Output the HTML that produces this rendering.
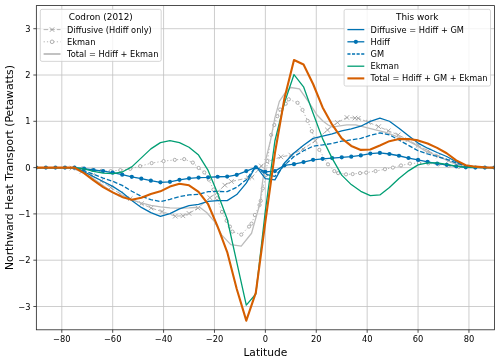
<!DOCTYPE html><html><head><meta charset="utf-8"><title>Northward Heat Transport</title><style>html,body{margin:0;padding:0;background:#fff}svg{display:block}</style></head><body><svg width="500" height="361" viewBox="0 0 500 361" font-family="DejaVu Sans, Liberation Sans, sans-serif">
<rect width="500" height="361" fill="#fff"/>
<path d="M61.80 5.6V329.8M112.69 5.6V329.8M163.59 5.6V329.8M214.48 5.6V329.8M265.37 5.6V329.8M316.27 5.6V329.8M367.16 5.6V329.8M418.06 5.6V329.8M468.95 5.6V329.8M36.35 306.50H494.4M36.35 260.20H494.4M36.35 213.90H494.4M36.35 167.60H494.4M36.35 121.30H494.4M36.35 75.00H494.4M36.35 28.70H494.4" stroke="#c2c2c2" stroke-width="0.8" fill="none"/>
<clipPath id="c"><rect x="36.35" y="5.6" width="458.04999999999995" height="324.2"/></clipPath>
<g clip-path="url(#c)" fill="none" stroke-linejoin="round">
<polyline points="36.35,167.60 61.80,167.60 71.98,168.06 82.16,171.30 92.33,175.47 101.24,181.03 110.66,187.51 120.33,193.99 130.25,198.62 141.45,203.71 151.12,208.02 162.06,211.58 175.29,216.17 182.93,215.80 189.03,213.44 197.94,208.02 209.90,197.69 217.28,192.37 224.79,185.19 231.40,181.49 248.33,177.79 251.89,177.32 261.30,165.98 266.90,161.81 280.90,156.86 290.82,155.10 303.04,149.08 315.25,140.79 327.47,129.96 337.39,122.50 346.93,117.50 354.95,118.06 358.26,118.29 368.44,122.23 378.62,126.62 388.29,130.79 398.21,134.87 407.88,139.82 418.06,145.38 428.24,150.93 438.42,156.03 448.59,160.66 458.77,164.82 468.95,167.60 494.40,167.60" stroke="#b4b4b4" stroke-width="1" stroke-dasharray="4.6 2"/>
<path d="M69.68 165.76L74.28 170.36M69.68 170.36L74.28 165.76M79.86 169.00L84.45 173.60M79.86 173.60L84.45 169.00M90.03 173.17L94.63 177.77M90.03 177.77L94.63 173.17M98.94 178.73L103.54 183.33M98.94 183.33L103.54 178.73M108.36 185.21L112.96 189.81M108.36 189.81L112.96 185.21M118.03 191.69L122.63 196.29M118.03 196.29L122.63 191.69M127.95 196.32L132.55 200.92M127.95 200.92L132.55 196.32M139.15 201.41L143.75 206.01M139.15 206.01L143.75 201.41M148.82 205.72L153.42 210.32M148.82 210.32L153.42 205.72M159.76 209.28L164.36 213.88M159.76 213.88L164.36 209.28M172.99 213.87L177.59 218.47M172.99 218.47L177.59 213.87M180.63 213.50L185.23 218.10M180.63 218.10L185.23 213.50M186.73 211.14L191.33 215.74M186.73 215.74L191.33 211.14M195.64 205.72L200.24 210.32M195.64 210.32L200.24 205.72M207.60 195.39L212.20 200.00M207.60 200.00L212.20 195.39M214.98 190.07L219.58 194.67M214.98 194.67L219.58 190.07M222.49 182.89L227.09 187.49M222.49 187.49L227.09 182.89M229.10 179.19L233.70 183.79M229.10 183.79L233.70 179.19M246.03 175.49L250.63 180.09M246.03 180.09L250.63 175.49M249.59 175.02L254.19 179.62M249.59 179.62L254.19 175.02M259.00 163.68L263.60 168.28M259.00 168.28L263.60 163.68M264.60 159.51L269.20 164.11M264.60 164.11L269.20 159.51M278.60 154.56L283.20 159.16M278.60 159.16L283.20 154.56M288.52 152.80L293.12 157.40M288.52 157.40L293.12 152.80M300.74 146.78L305.34 151.38M300.74 151.38L305.34 146.78M312.95 138.49L317.55 143.09M312.95 143.09L317.55 138.49M325.17 127.66L329.77 132.26M325.17 132.26L329.77 127.66M335.09 120.20L339.69 124.80M335.09 124.80L339.69 120.20M344.63 115.20L349.23 119.80M344.63 119.80L349.23 115.20M352.65 115.76L357.25 120.36M352.65 120.36L357.25 115.76M355.96 115.99L360.56 120.59M355.96 120.59L360.56 115.99M366.14 119.93L370.74 124.53M366.14 124.53L370.74 119.93M376.32 124.32L380.92 128.92M376.32 128.92L380.92 124.32M385.99 128.49L390.59 133.09M385.99 133.09L390.59 128.49M395.91 132.57L400.51 137.17M395.91 137.17L400.51 132.57M405.58 137.52L410.18 142.12M405.58 142.12L410.18 137.52M415.76 143.08L420.36 147.68M415.76 147.68L420.36 143.08M425.94 148.63L430.54 153.23M425.94 153.23L430.54 148.63M436.12 153.72L440.72 158.33M436.12 158.33L440.72 153.72M446.29 158.35L450.89 162.96M446.29 162.96L450.89 158.35M456.47 162.52L461.07 167.12M456.47 167.12L461.07 162.52" stroke="#9c9c9c" stroke-width="0.85"/>
<polyline points="36.35,167.60 61.80,167.60 82.16,168.53 92.33,169.91 101.24,170.84 110.66,171.12 120.33,170.10 130.25,168.85 140.17,166.12 151.63,163.11 163.59,161.12 174.78,159.87 184.20,159.13 192.85,162.60 198.70,167.97 204.30,172.42 208.88,179.64 213.46,189.59 217.03,198.16 221.96,211.96 226.62,220.80 229.93,226.59 232.42,231.59 241.25,234.60 249.06,226.59 251.56,223.62 254.89,214.96 259.55,205.01 260.72,200.84 262.83,188.44 266.14,174.87 267.41,161.12 271.15,134.96 274.28,125.00 277.34,116.21 280.13,109.49 285.73,103.71 288.79,99.31 297.57,102.78 302.53,109.91 307.62,120.84 311.82,131.16 319.32,149.87 327.98,164.36 334.34,171.12 338.15,173.11 346.04,174.36 352.66,174.08 360.04,173.11 366.15,172.60 375.56,171.12 384.98,169.22 392.87,167.60 401.01,165.47 409.92,163.62 419.08,162.97 428.24,163.43 438.42,164.36 448.59,165.75 458.77,166.91 468.95,167.60 494.40,167.60" stroke="#b4b4b4" stroke-width="1" stroke-dasharray="1.25 2.05"/>
<circle cx="82.16" cy="168.53" r="1.6" stroke="#9c9c9c" stroke-width="0.8" fill="#fff"/>
<circle cx="92.33" cy="169.91" r="1.6" stroke="#9c9c9c" stroke-width="0.8" fill="#fff"/>
<circle cx="101.24" cy="170.84" r="1.6" stroke="#9c9c9c" stroke-width="0.8" fill="#fff"/>
<circle cx="110.66" cy="171.12" r="1.6" stroke="#9c9c9c" stroke-width="0.8" fill="#fff"/>
<circle cx="120.33" cy="170.10" r="1.6" stroke="#9c9c9c" stroke-width="0.8" fill="#fff"/>
<circle cx="130.25" cy="168.85" r="1.6" stroke="#9c9c9c" stroke-width="0.8" fill="#fff"/>
<circle cx="140.17" cy="166.12" r="1.6" stroke="#9c9c9c" stroke-width="0.8" fill="#fff"/>
<circle cx="151.63" cy="163.11" r="1.6" stroke="#9c9c9c" stroke-width="0.8" fill="#fff"/>
<circle cx="163.59" cy="161.12" r="1.6" stroke="#9c9c9c" stroke-width="0.8" fill="#fff"/>
<circle cx="174.78" cy="159.87" r="1.6" stroke="#9c9c9c" stroke-width="0.8" fill="#fff"/>
<circle cx="184.20" cy="159.13" r="1.6" stroke="#9c9c9c" stroke-width="0.8" fill="#fff"/>
<circle cx="192.85" cy="162.60" r="1.6" stroke="#9c9c9c" stroke-width="0.8" fill="#fff"/>
<circle cx="198.70" cy="167.97" r="1.6" stroke="#9c9c9c" stroke-width="0.8" fill="#fff"/>
<circle cx="204.30" cy="172.42" r="1.6" stroke="#9c9c9c" stroke-width="0.8" fill="#fff"/>
<circle cx="208.88" cy="179.64" r="1.6" stroke="#9c9c9c" stroke-width="0.8" fill="#fff"/>
<circle cx="213.46" cy="189.59" r="1.6" stroke="#9c9c9c" stroke-width="0.8" fill="#fff"/>
<circle cx="217.03" cy="198.16" r="1.6" stroke="#9c9c9c" stroke-width="0.8" fill="#fff"/>
<circle cx="221.96" cy="211.96" r="1.6" stroke="#9c9c9c" stroke-width="0.8" fill="#fff"/>
<circle cx="226.62" cy="220.80" r="1.6" stroke="#9c9c9c" stroke-width="0.8" fill="#fff"/>
<circle cx="229.93" cy="226.59" r="1.6" stroke="#9c9c9c" stroke-width="0.8" fill="#fff"/>
<circle cx="232.42" cy="231.59" r="1.6" stroke="#9c9c9c" stroke-width="0.8" fill="#fff"/>
<circle cx="241.25" cy="234.60" r="1.6" stroke="#9c9c9c" stroke-width="0.8" fill="#fff"/>
<circle cx="249.06" cy="226.59" r="1.6" stroke="#9c9c9c" stroke-width="0.8" fill="#fff"/>
<circle cx="251.56" cy="223.62" r="1.6" stroke="#9c9c9c" stroke-width="0.8" fill="#fff"/>
<circle cx="254.89" cy="214.96" r="1.6" stroke="#9c9c9c" stroke-width="0.8" fill="#fff"/>
<circle cx="259.55" cy="205.01" r="1.6" stroke="#9c9c9c" stroke-width="0.8" fill="#fff"/>
<circle cx="260.72" cy="200.84" r="1.6" stroke="#9c9c9c" stroke-width="0.8" fill="#fff"/>
<circle cx="262.83" cy="188.44" r="1.6" stroke="#9c9c9c" stroke-width="0.8" fill="#fff"/>
<circle cx="266.14" cy="174.87" r="1.6" stroke="#9c9c9c" stroke-width="0.8" fill="#fff"/>
<circle cx="267.41" cy="161.12" r="1.6" stroke="#9c9c9c" stroke-width="0.8" fill="#fff"/>
<circle cx="271.15" cy="134.96" r="1.6" stroke="#9c9c9c" stroke-width="0.8" fill="#fff"/>
<circle cx="274.28" cy="125.00" r="1.6" stroke="#9c9c9c" stroke-width="0.8" fill="#fff"/>
<circle cx="277.34" cy="116.21" r="1.6" stroke="#9c9c9c" stroke-width="0.8" fill="#fff"/>
<circle cx="280.13" cy="109.49" r="1.6" stroke="#9c9c9c" stroke-width="0.8" fill="#fff"/>
<circle cx="285.73" cy="103.71" r="1.6" stroke="#9c9c9c" stroke-width="0.8" fill="#fff"/>
<circle cx="288.79" cy="99.31" r="1.6" stroke="#9c9c9c" stroke-width="0.8" fill="#fff"/>
<circle cx="297.57" cy="102.78" r="1.6" stroke="#9c9c9c" stroke-width="0.8" fill="#fff"/>
<circle cx="302.53" cy="109.91" r="1.6" stroke="#9c9c9c" stroke-width="0.8" fill="#fff"/>
<circle cx="307.62" cy="120.84" r="1.6" stroke="#9c9c9c" stroke-width="0.8" fill="#fff"/>
<circle cx="311.82" cy="131.16" r="1.6" stroke="#9c9c9c" stroke-width="0.8" fill="#fff"/>
<circle cx="319.32" cy="149.87" r="1.6" stroke="#9c9c9c" stroke-width="0.8" fill="#fff"/>
<circle cx="327.98" cy="164.36" r="1.6" stroke="#9c9c9c" stroke-width="0.8" fill="#fff"/>
<circle cx="334.34" cy="171.12" r="1.6" stroke="#9c9c9c" stroke-width="0.8" fill="#fff"/>
<circle cx="338.15" cy="173.11" r="1.6" stroke="#9c9c9c" stroke-width="0.8" fill="#fff"/>
<circle cx="346.04" cy="174.36" r="1.6" stroke="#9c9c9c" stroke-width="0.8" fill="#fff"/>
<circle cx="352.66" cy="174.08" r="1.6" stroke="#9c9c9c" stroke-width="0.8" fill="#fff"/>
<circle cx="360.04" cy="173.11" r="1.6" stroke="#9c9c9c" stroke-width="0.8" fill="#fff"/>
<circle cx="366.15" cy="172.60" r="1.6" stroke="#9c9c9c" stroke-width="0.8" fill="#fff"/>
<circle cx="375.56" cy="171.12" r="1.6" stroke="#9c9c9c" stroke-width="0.8" fill="#fff"/>
<circle cx="384.98" cy="169.22" r="1.6" stroke="#9c9c9c" stroke-width="0.8" fill="#fff"/>
<circle cx="392.87" cy="167.60" r="1.6" stroke="#9c9c9c" stroke-width="0.8" fill="#fff"/>
<circle cx="401.01" cy="165.47" r="1.6" stroke="#9c9c9c" stroke-width="0.8" fill="#fff"/>
<circle cx="409.92" cy="163.62" r="1.6" stroke="#9c9c9c" stroke-width="0.8" fill="#fff"/>
<circle cx="419.08" cy="162.97" r="1.6" stroke="#9c9c9c" stroke-width="0.8" fill="#fff"/>
<circle cx="428.24" cy="163.43" r="1.6" stroke="#9c9c9c" stroke-width="0.8" fill="#fff"/>
<circle cx="438.42" cy="164.36" r="1.6" stroke="#9c9c9c" stroke-width="0.8" fill="#fff"/>
<circle cx="448.59" cy="165.75" r="1.6" stroke="#9c9c9c" stroke-width="0.8" fill="#fff"/>
<circle cx="458.77" cy="166.91" r="1.6" stroke="#9c9c9c" stroke-width="0.8" fill="#fff"/>
<polyline points="36.35,167.60 66.89,167.60 71.98,168.06 82.16,172.23 92.33,177.79 100.22,183.57 112.69,192.32 122.23,197.32 131.78,199.82 141.32,202.79 150.86,205.33 160.41,206.82 169.95,207.83 179.49,208.07 189.03,207.88 195.40,207.51 199.98,207.51 206.64,212.51 214.48,221.63 221.61,234.92 230.77,244.60 241.25,246.22 251.56,233.25 255.71,218.30 259.88,204.18 262.37,183.34 264.03,171.63 265.71,159.96 270.64,139.82 274.92,117.60 279.37,101.39 284.46,93.75 290.69,87.50 299.47,88.89 308.25,101.39 317.29,115.28 323.14,121.30 328.23,125.00 332.56,127.09 338.15,126.12 346.81,124.87 355.71,124.87 365.64,127.37 375.56,129.87 385.74,132.41 395.66,136.12 405.84,139.82 415.77,144.91 425.69,151.12 438.42,156.49 448.59,161.12 458.77,165.28 466.41,167.60 494.40,167.60" stroke="#bcbcbc" stroke-width="1.3"/>
<polyline points="36.35,167.60 45.89,167.60 55.44,167.60 64.98,167.60 74.52,167.60 84.06,171.72 93.61,176.72 103.15,181.49 112.69,186.35 122.23,192.51 131.78,200.43 141.32,207.42 150.86,212.65 160.41,216.35 169.95,213.58 179.49,208.81 189.03,205.66 198.58,204.32 208.12,201.45 217.66,200.61 227.20,200.66 236.75,194.55 246.29,183.16 255.83,166.21 265.37,178.57 274.92,179.92 284.46,163.02 294.00,153.02 303.55,145.24 313.09,138.38 322.63,136.16 332.17,133.94 341.72,130.93 351.26,128.94 360.80,126.21 370.34,121.44 379.89,118.15 389.43,121.25 398.97,128.20 408.52,135.79 418.06,143.06 427.60,148.20 437.14,152.51 446.69,156.49 456.23,161.72 465.77,165.75 475.31,166.91 484.86,167.37 494.40,167.60" stroke="#0072B2" stroke-width="1.3"/>
<polyline points="36.35,167.60 45.89,167.60 55.44,167.60 64.98,167.60 74.52,167.60 84.06,168.71 93.61,170.01 103.15,171.07 112.69,172.69 122.23,174.68 131.78,176.81 141.32,178.71 150.86,180.70 160.41,182.32 169.95,181.86 179.49,179.82 189.03,178.34 198.58,177.60 208.12,177.37 217.66,176.77 227.20,176.58 236.75,174.87 246.29,171.12 255.83,167.37 265.37,171.86 274.92,171.12 284.46,165.33 294.00,164.13 303.55,162.04 313.09,159.82 322.63,158.85 332.17,158.11 341.72,157.37 351.26,156.63 360.80,155.38 370.34,153.62 379.89,152.88 389.43,153.99 398.97,155.75 408.52,158.02 418.06,159.96 427.60,161.86 437.14,163.62 446.69,164.82 456.23,166.35 465.77,167.37 475.31,167.60 484.86,167.60 494.40,167.60" stroke="#0072B2" stroke-width="1.3"/>
<circle cx="36.35" cy="167.60" r="2.1" fill="#0072B2"/>
<circle cx="45.89" cy="167.60" r="2.1" fill="#0072B2"/>
<circle cx="55.44" cy="167.60" r="2.1" fill="#0072B2"/>
<circle cx="64.98" cy="167.60" r="2.1" fill="#0072B2"/>
<circle cx="74.52" cy="167.60" r="2.1" fill="#0072B2"/>
<circle cx="84.06" cy="168.71" r="2.1" fill="#0072B2"/>
<circle cx="93.61" cy="170.01" r="2.1" fill="#0072B2"/>
<circle cx="103.15" cy="171.07" r="2.1" fill="#0072B2"/>
<circle cx="112.69" cy="172.69" r="2.1" fill="#0072B2"/>
<circle cx="122.23" cy="174.68" r="2.1" fill="#0072B2"/>
<circle cx="131.78" cy="176.81" r="2.1" fill="#0072B2"/>
<circle cx="141.32" cy="178.71" r="2.1" fill="#0072B2"/>
<circle cx="150.86" cy="180.70" r="2.1" fill="#0072B2"/>
<circle cx="160.41" cy="182.32" r="2.1" fill="#0072B2"/>
<circle cx="169.95" cy="181.86" r="2.1" fill="#0072B2"/>
<circle cx="179.49" cy="179.82" r="2.1" fill="#0072B2"/>
<circle cx="189.03" cy="178.34" r="2.1" fill="#0072B2"/>
<circle cx="198.58" cy="177.60" r="2.1" fill="#0072B2"/>
<circle cx="208.12" cy="177.37" r="2.1" fill="#0072B2"/>
<circle cx="217.66" cy="176.77" r="2.1" fill="#0072B2"/>
<circle cx="227.20" cy="176.58" r="2.1" fill="#0072B2"/>
<circle cx="236.75" cy="174.87" r="2.1" fill="#0072B2"/>
<circle cx="246.29" cy="171.12" r="2.1" fill="#0072B2"/>
<circle cx="255.83" cy="167.37" r="2.1" fill="#0072B2"/>
<circle cx="265.37" cy="171.86" r="2.1" fill="#0072B2"/>
<circle cx="274.92" cy="171.12" r="2.1" fill="#0072B2"/>
<circle cx="284.46" cy="165.33" r="2.1" fill="#0072B2"/>
<circle cx="294.00" cy="164.13" r="2.1" fill="#0072B2"/>
<circle cx="303.55" cy="162.04" r="2.1" fill="#0072B2"/>
<circle cx="313.09" cy="159.82" r="2.1" fill="#0072B2"/>
<circle cx="322.63" cy="158.85" r="2.1" fill="#0072B2"/>
<circle cx="332.17" cy="158.11" r="2.1" fill="#0072B2"/>
<circle cx="341.72" cy="157.37" r="2.1" fill="#0072B2"/>
<circle cx="351.26" cy="156.63" r="2.1" fill="#0072B2"/>
<circle cx="360.80" cy="155.38" r="2.1" fill="#0072B2"/>
<circle cx="370.34" cy="153.62" r="2.1" fill="#0072B2"/>
<circle cx="379.89" cy="152.88" r="2.1" fill="#0072B2"/>
<circle cx="389.43" cy="153.99" r="2.1" fill="#0072B2"/>
<circle cx="398.97" cy="155.75" r="2.1" fill="#0072B2"/>
<circle cx="408.52" cy="158.02" r="2.1" fill="#0072B2"/>
<circle cx="418.06" cy="159.96" r="2.1" fill="#0072B2"/>
<circle cx="427.60" cy="161.86" r="2.1" fill="#0072B2"/>
<circle cx="437.14" cy="163.62" r="2.1" fill="#0072B2"/>
<circle cx="446.69" cy="164.82" r="2.1" fill="#0072B2"/>
<circle cx="456.23" cy="166.35" r="2.1" fill="#0072B2"/>
<circle cx="465.77" cy="167.37" r="2.1" fill="#0072B2"/>
<circle cx="475.31" cy="167.60" r="2.1" fill="#0072B2"/>
<circle cx="484.86" cy="167.60" r="2.1" fill="#0072B2"/>
<circle cx="494.40" cy="167.60" r="2.1" fill="#0072B2"/>
<polyline points="36.35,167.60 45.89,167.60 55.44,167.60 64.98,167.60 74.52,167.60 84.06,170.61 93.61,174.31 103.15,178.02 112.69,181.26 122.23,185.43 131.78,191.21 141.32,196.31 150.86,199.55 160.41,201.63 169.95,199.32 179.49,196.58 189.03,194.92 198.58,194.32 208.12,191.68 217.66,191.44 227.20,191.68 236.75,187.28 246.29,179.64 255.83,166.44 265.37,174.31 274.92,176.40 284.46,165.28 294.00,156.49 303.55,150.79 313.09,146.16 322.63,144.91 332.17,143.43 341.72,141.16 351.26,139.91 360.80,138.43 370.34,135.42 379.89,132.88 389.43,134.87 398.97,140.05 408.52,145.38 418.06,150.70 427.60,153.94 437.14,156.49 446.69,159.27 456.23,162.97 465.77,165.98 475.31,166.91 484.86,167.37 494.40,167.60" stroke="#0072B2" stroke-width="1.3" stroke-dasharray="4.6 2"/>
<polyline points="36.35,167.60 45.89,167.60 55.44,167.60 64.98,167.60 74.52,167.60 84.06,168.99 93.61,171.30 103.15,173.16 112.69,173.62 122.23,172.00 131.78,166.86 141.32,157.88 150.86,148.85 160.41,142.60 169.95,140.61 179.49,142.60 189.03,147.23 198.58,155.10 208.12,170.38 217.66,193.53 227.20,218.99 236.75,262.05 246.29,305.11 255.83,294.00 265.37,210.66 274.92,140.75 284.46,102.78 294.00,74.54 303.55,86.81 313.09,113.20 322.63,138.89 332.17,158.34 341.72,175.10 351.26,184.59 360.80,191.31 370.34,195.66 379.89,194.92 389.43,187.51 398.97,178.48 408.52,170.84 418.06,164.91 427.60,162.97 437.14,162.97 446.69,164.36 456.23,166.21 465.77,167.14 475.31,167.37 484.86,167.60 494.40,167.60" stroke="#009E73" stroke-width="1.3"/>
<polyline points="36.35,167.60 45.89,167.60 55.44,167.60 64.98,167.60 74.52,167.60 84.06,173.11 93.61,180.43 103.15,187.05 112.69,192.37 122.23,196.91 131.78,199.69 141.32,197.69 150.86,193.90 160.41,191.35 169.95,186.58 179.49,183.81 189.03,185.29 198.58,191.81 208.12,204.22 217.66,226.54 227.20,252.05 236.75,289.00 246.29,320.67 255.83,292.61 265.37,221.63 274.92,153.06 284.46,98.20 294.00,59.95 303.55,64.44 313.09,83.98 322.63,107.46 332.17,124.68 341.72,138.43 351.26,145.93 360.80,149.91 370.34,149.50 379.89,145.47 389.43,141.16 398.97,139.08 408.52,139.03 418.06,140.38 427.60,143.57 437.14,147.88 446.69,153.25 456.23,160.33 465.77,165.28 475.31,166.67 484.86,167.37 494.40,167.60" stroke="#D55E00" stroke-width="2.1"/>
</g>
<rect x="36.35" y="5.6" width="458.04999999999995" height="324.2" fill="none" stroke="#222" stroke-width="0.8"/>
<path d="M61.80 329.8v3M112.69 329.8v3M163.59 329.8v3M214.48 329.8v3M265.37 329.8v3M316.27 329.8v3M367.16 329.8v3M418.06 329.8v3M468.95 329.8v3M36.35 306.50h-3M36.35 260.20h-3M36.35 213.90h-3M36.35 167.60h-3M36.35 121.30h-3M36.35 75.00h-3M36.35 28.70h-3" stroke="#222" stroke-width="0.8" fill="none"/>
<g font-size="8.3" fill="#000">
<text x="61.80" y="342.3" text-anchor="middle">−80</text>
<text x="112.69" y="342.3" text-anchor="middle">−60</text>
<text x="163.59" y="342.3" text-anchor="middle">−40</text>
<text x="214.48" y="342.3" text-anchor="middle">−20</text>
<text x="265.37" y="342.3" text-anchor="middle">0</text>
<text x="316.27" y="342.3" text-anchor="middle">20</text>
<text x="367.16" y="342.3" text-anchor="middle">40</text>
<text x="418.06" y="342.3" text-anchor="middle">60</text>
<text x="468.95" y="342.3" text-anchor="middle">80</text>
<text x="30.45" y="309.60" text-anchor="end">−3</text>
<text x="30.45" y="263.30" text-anchor="end">−2</text>
<text x="30.45" y="217.00" text-anchor="end">−1</text>
<text x="30.45" y="170.70" text-anchor="end">0</text>
<text x="30.45" y="124.40" text-anchor="end">1</text>
<text x="30.45" y="78.10" text-anchor="end">2</text>
<text x="30.45" y="31.80" text-anchor="end">3</text>
</g>
<text x="265.38" y="355.6" text-anchor="middle" font-size="10.7" fill="#000">Latitude</text>
<text transform="translate(13.2 167.60) rotate(-90)" text-anchor="middle" font-size="10.8" fill="#000">Northward Heat Transport (Petawatts)</text>
<rect x="40.3" y="9.35" width="120.9" height="52.0" rx="1.7" fill="#fff" fill-opacity="0.8" stroke="#ccc" stroke-width="0.8"/>
<text x="100.75" y="19.60" text-anchor="middle" font-size="8.9" fill="#000">Codron (2012)</text>
<path d="M43.599999999999994 29.6H60.5" stroke="#b4b4b4" stroke-width="1" stroke-dasharray="4.6 2" fill="none"/><path d="M49.85 27.40L54.25 31.80M49.85 31.80L54.25 27.40" stroke="#9c9c9c" stroke-width="0.9"/>
<text x="67.10" y="32.60" font-size="8.25" fill="#000">Diffusive (Hdiff only)</text>
<path d="M43.599999999999994 41.8H60.5" stroke="#b4b4b4" stroke-width="1" stroke-dasharray="1.25 2.05" fill="none"/><circle cx="52.05" cy="41.8" r="1.8" stroke="#9c9c9c" stroke-width="0.8" fill="#fff"/>
<text x="67.10" y="44.80" font-size="8.25" fill="#000">Ekman</text>
<path d="M43.599999999999994 54.0H60.5" stroke="#c2c2c2" stroke-width="2"/>
<text x="67.10" y="57.00" font-size="8.25" fill="#000">Total = Hdiff + Ekman</text>
<rect x="344.1" y="9.35" width="146.4" height="76.7" rx="1.7" fill="#fff" fill-opacity="0.8" stroke="#ccc" stroke-width="0.8"/>
<text x="417.30" y="19.60" text-anchor="middle" font-size="8.9" fill="#000">This work</text>
<path d="M347.40000000000003 29.6H364.3" stroke="#0072B2" stroke-width="1.3" fill="none"/>
<text x="370.60" y="32.60" font-size="8.25" fill="#000">Diffusive = Hdiff + GM</text>
<path d="M347.40000000000003 41.8H364.3" stroke="#0072B2" stroke-width="1.3" fill="none"/><circle cx="355.85" cy="41.8" r="2.1" fill="#0072B2"/>
<text x="370.60" y="44.80" font-size="8.25" fill="#000">Hdiff</text>
<path d="M347.40000000000003 54.0H364.3" stroke="#0072B2" stroke-width="1.3" stroke-dasharray="3.1 1.5" fill="none"/>
<text x="370.60" y="57.00" font-size="8.25" fill="#000">GM</text>
<path d="M347.40000000000003 66.19999999999999H364.3" stroke="#009E73" stroke-width="1.3" fill="none"/>
<text x="370.60" y="69.20" font-size="8.25" fill="#000">Ekman</text>
<path d="M347.40000000000003 78.4H364.3" stroke="#D55E00" stroke-width="2.1" fill="none"/>
<text x="370.60" y="81.40" font-size="8.25" fill="#000">Total = Hdiff + GM + Ekman</text>
</svg></body></html>
